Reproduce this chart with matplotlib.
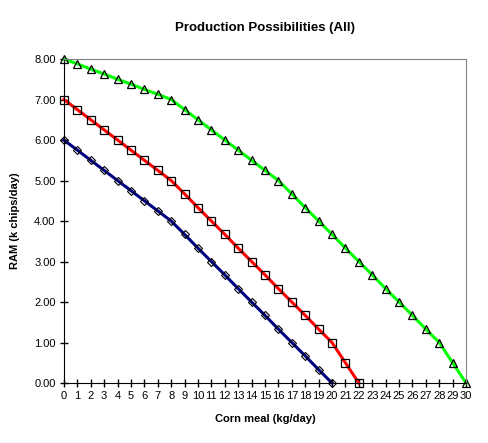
import matplotlib
matplotlib.use("Agg")
import matplotlib.pyplot as plt
import numpy as np

plt.rcParams["font.family"] = ["Liberation Sans", "DejaVu Sans"]

corn = list(range(0, 31))

# RAM output (k chips/day) per corn meal level, one list per series
ram_blue = [6.00, 5.75, 5.50, 5.25, 5.00, 4.75, 4.50, 4.25, 4.00, 3.67,
            3.33, 3.00, 2.67, 2.33, 2.00, 1.67, 1.33, 1.00, 0.67, 0.33, 0.00]
ram_red = [7.00, 6.75, 6.50, 6.25, 6.00, 5.75, 5.50, 5.25, 5.00, 4.67,
           4.33, 4.00, 3.67, 3.33, 3.00, 2.67, 2.33, 2.00, 1.67, 1.33,
           1.00, 0.50, 0.00]
ram_green = [8.00, 7.88, 7.75, 7.63, 7.50, 7.38, 7.25, 7.13, 7.00, 6.75,
             6.50, 6.25, 6.00, 5.75, 5.50, 5.25, 5.00, 4.67, 4.33, 4.00,
             3.67, 3.33, 3.00, 2.67, 2.33, 2.00, 1.67, 1.33, 1.00, 0.50, 0.00]

fig = plt.figure(figsize=(4.88, 4.43), dpi=100)
ax = fig.add_axes([0.131, 0.1354, 0.824, 0.7314])

ax.plot(corn[:len(ram_blue)], ram_blue, color="#000080", lw=2.2,
        marker="D", ms=4, mfc="none", mec="black", mew=0.8, clip_on=False)
ax.plot(corn[:len(ram_red)], ram_red, color="#ff0000", lw=2.2,
        marker="s", ms=5.2, mfc="none", mec="black", mew=0.9, clip_on=False)
ax.plot(corn, ram_green, color="#00ff00", lw=2.2,
        marker="^", ms=5.5, mfc="none", mec="black", mew=0.9, clip_on=False)

ax.set_xlim(0, 30)
ax.set_ylim(0, 8)
ax.set_xticks(corn)
ax.set_yticks(np.arange(0, 9, 1))
ax.set_yticklabels(["%.2f" % v for v in np.arange(0, 9, 1)])
ax.tick_params(direction="inout", length=6, width=1, labelsize=8, pad=3)

for s in ["top", "right"]:
    ax.spines[s].set_color("#808080")
for s in ["left", "bottom"]:
    ax.spines[s].set_color("black")

ax.set_title("Production Possibilities (All)", fontsize=9.5, fontweight="bold", pad=20)
ax.set_xlabel("Corn meal (kg/day)", fontsize=8, fontweight="bold", labelpad=9)
ax.set_ylabel("RAM (k chips/day)", fontsize=8, fontweight="bold", labelpad=10)

fig.savefig("out.png", dpi=100)
